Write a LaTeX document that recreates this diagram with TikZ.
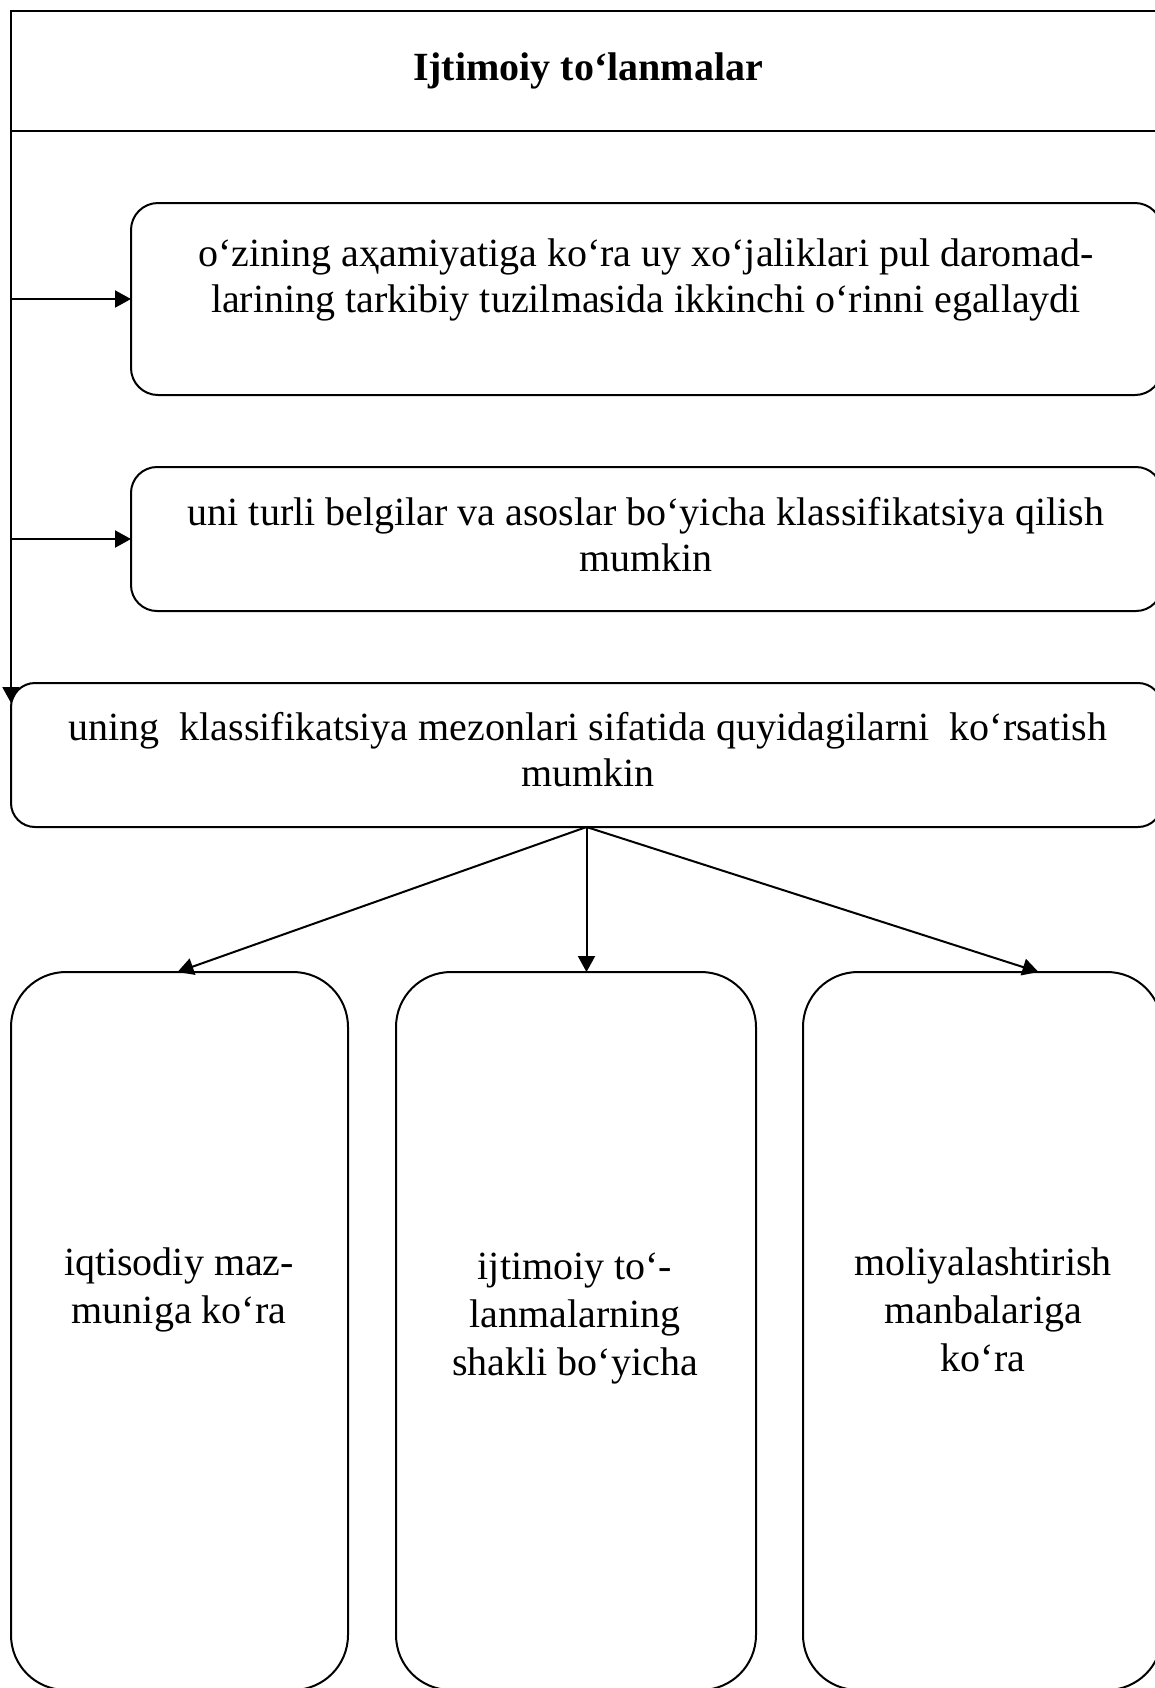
\documentclass[tikz,border=0pt]{standalone}
\usepackage{fontspec}
\setmainfont{Liberation Serif}
\usetikzlibrary{arrows.meta,calc}
\begin{document}
\begin{tikzpicture}[x=0.5pt,y=-0.5pt,
  every node/.style={outer sep=0pt},
  conn/.style={line width=1pt},
  arr/.style={line width=1pt,-{Triangle[length=8pt,width=8.5pt]}},
  rbox/.style={draw,line width=1pt,rounded corners=#1,inner sep=0pt},
  txt/.style={align=center,inner sep=0pt,font=\fontsize{20pt}{23pt}\selectfont},
  btxt/.style={align=center,inner sep=0pt,font=\fontsize{20pt}{24pt}\selectfont}]
\useasboundingbox (0,0) rectangle (1155,1688);
% title
\node[draw,line width=1pt,minimum width=577pt,minimum height=60pt,inner sep=0pt,
  font=\bfseries\fontsize{20pt}{23pt}\selectfont] (title) at (588,71) {Ijtimoiy to‘lanmalar};
% boxes
\node[rbox=13.5pt,minimum width=515.5pt,minimum height=96pt] (b1) at (646.5,299) {};
\node[rbox=13pt,minimum width=515.5pt,minimum height=72pt] (b2) at (646.5,539) {};
\node[rbox=12pt,minimum width=575.5pt,minimum height=72pt] (b3) at (586.5,755) {};
\node[rbox=27.5pt,minimum width=168.5pt,minimum height=359pt] (bA) at (179.5,1331) {};
\node[rbox=27.5pt,minimum width=180pt,minimum height=359pt] (bB) at (576,1331) {};
\node[rbox=27.5pt,minimum width=179.5pt,minimum height=359pt] (bC) at (982.5,1331) {};
% texts
\node[txt] (t1) at (646,280) {o‘zining aҳamiyatiga ko‘ra uy xo‘jaliklari pul daromad-\\larining tarkibiy tuzilmasida ikkinchi o‘rinni egallaydi};
\node[txt] (t2) at (646,535) {uni turli belgilar va asoslar bo‘yicha klassifikatsiya qilish\\mumkin};
\node[txt] (t3) at (588,750) {uning\ \ klassifikatsiya mezonlari sifatida quyidagilarni\ \ ko‘rsatish\\mumkin};
\node[btxt] (tA) at (179,1290) {iqtisodiy maz-\\muniga ko‘ra};
\node[btxt] (tB) at (575,1318) {ijtimoiy to‘-\\lanmalarning\\shakli bo‘yicha};
\node[btxt] (tC) at (983,1310) {moliyalashtirish\\manbalariga\\ko‘ra};
% connectors
\draw[arr] (title.south west) -- ([yshift=-10pt]b3.north west);
\draw[arr] (title.south west |- b1.west) -- (b1.west);
\draw[arr] (title.south west |- b2.west) -- (b2.west);
\draw[arr] (b3.south) -- ([xshift=-1pt]bA.north);
\draw[arr] (b3.south) -- (b3.south |- bB.north);
\draw[arr] (b3.south) -- ([xshift=28pt]bC.north);
\end{tikzpicture}
\end{document}
